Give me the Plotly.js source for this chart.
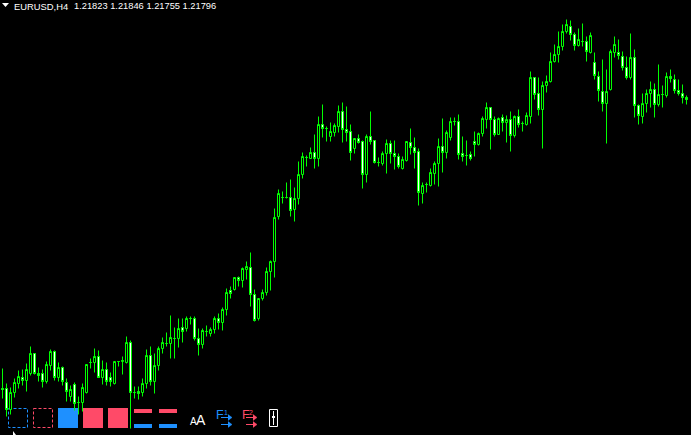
<!DOCTYPE html>
<html><head><meta charset="utf-8">
<script src="https://cdn.plot.ly/plotly-3.0.1.min.js"></script>
<style>html,body{margin:0;padding:0;background:#000;overflow:hidden}#c{width:691px;height:435px}</style>
</head><body><div id="c"></div>
<script>
// EURUSD H4, prices expressed in points (price x 10000)
const openP = [11890,11890,11869,11886,11895,11901,11898,11905,11925,11905,11905,11897,11913,11927,11901,11911,11896,11882,11894,11876,11876,11886,11916,11916,11922,11901,11909,11901,11895,11917,11917,11916,11936,11886,11887,11886,11895,11923,11897,11913,11930,11935,11935,11940,11940,11951,11950,11960,11960,11940,11934,11947,11945,11949,11960,11956,11969,11988,11989,12001,11998,12009,12011,11984,11960,11980,11986,12007,12017,12062,12081,12081,12081,12069,12080,12104,12121,12120,12126,12120,12154,12150,12142,12146,12152,12167,12149,12147,12130,12140,12137,12104,12142,12138,12116,12115,12125,12135,12125,12122,12110,12118,12136,12131,12127,12085,12094,12093,12105,12115,12132,12126,12141,12157,12157,12125,12123,12124,12137,12134,12145,12159,12171,12159,12144,12161,12156,12159,12143,12162,12155,12154,12162,12201,12185,12169,12193,12197,12217,12224,12232,12247,12252,12244,12233,12237,12237,12226,12216,12202,12187,12175,12189,12226,12226,12222,12211,12201,12221,12173,12162,12175,12185,12189,12174,12184,12183,12202,12199,12188,12185,12181];
const highP = [11910,11895,11891,11900,11908,11909,11915,11932,11925,11911,11909,11917,11929,11928,11916,11912,11900,11893,11896,11882,11895,11914,11920,11930,11928,11918,11916,11906,11917,11917,11922,11942,11938,11892,11892,11900,11929,11932,11925,11932,11941,11946,11963,11951,11960,11960,11962,11962,11962,11950,11950,11953,11951,11962,11965,11971,11990,11992,12001,12002,12011,12017,12026,11989,11980,11989,12011,12018,12070,12089,12087,12096,12099,12091,12117,12126,12123,12131,12144,12162,12174,12152,12156,12155,12173,12176,12172,12154,12140,12144,12138,12144,12167,12138,12121,12127,12139,12138,12138,12125,12122,12137,12150,12141,12130,12096,12096,12110,12117,12140,12160,12148,12161,12161,12164,12142,12138,12127,12147,12146,12162,12176,12171,12162,12161,12164,12163,12167,12163,12169,12157,12166,12207,12201,12201,12197,12203,12226,12234,12247,12254,12259,12258,12246,12250,12255,12242,12246,12226,12207,12219,12209,12229,12242,12239,12227,12222,12245,12229,12174,12185,12189,12197,12195,12214,12193,12206,12209,12204,12199,12194,12183];
const lowP = [11880,11862,11864,11881,11890,11893,11887,11903,11904,11897,11891,11895,11908,11898,11897,11893,11877,11877,11868,11864,11867,11885,11910,11906,11901,11894,11893,11892,11894,11912,11904,11915,11850,11880,11879,11882,11890,11893,11885,11908,11925,11932,11920,11920,11931,11936,11947,11954,11938,11923,11930,11942,11942,11945,11949,11948,11963,11980,11988,11992,11991,11999,11972,11957,11958,11978,11983,11988,12001,12059,12075,12080,12062,12057,12074,12100,12112,12120,12110,12112,12141,12137,12137,12142,12146,12136,12137,12118,12125,12135,12090,12096,12134,12115,12112,12113,12105,12115,12109,12110,12109,12117,12124,12110,12073,12075,12086,12092,12094,12092,12106,12120,12138,12153,12119,12117,12113,12118,12122,12133,12142,12150,12129,12142,12144,12147,12136,12127,12141,12151,12147,12153,12155,12179,12163,12130,12186,12196,12216,12216,12228,12245,12238,12228,12232,12232,12217,12225,12199,12177,12167,12135,12188,12221,12219,12208,12199,12199,12161,12154,12155,12166,12171,12161,12172,12171,12181,12196,12185,12183,12175,12174];
const closeP = [11889,11869,11886,11896,11902,11898,11909,11925,11905,11903,11897,11914,11927,11901,11911,11897,11887,11889,11875,11876,11891,11914,11916,11922,11901,11909,11897,11897,11917,11917,11918,11936,11886,11886,11885,11895,11923,11897,11913,11930,11936,11935,11941,11940,11950,11947,11960,11960,11940,11934,11948,11947,11949,11960,11956,11969,11986,11985,12001,11998,12010,12012,11984,11958,11980,11986,12007,12017,12061,12085,12081,12081,12068,12080,12104,12122,12121,12126,12120,12154,12150,12150,12147,12153,12167,12149,12146,12126,12140,12136,12104,12142,12137,12116,12116,12125,12135,12125,12122,12112,12119,12137,12131,12126,12086,12093,12094,12106,12115,12132,12126,12146,12157,12157,12124,12122,12123,12120,12134,12145,12160,12171,12159,12144,12160,12156,12159,12143,12162,12154,12155,12163,12201,12184,12169,12193,12197,12217,12224,12232,12247,12254,12244,12233,12239,12237,12227,12243,12203,12188,12175,12187,12227,12234,12223,12211,12201,12221,12173,12163,12175,12185,12189,12174,12184,12184,12202,12200,12188,12185,12181,12179];
const headerSymbol = "EURUSD,H4";
const headerPrices = "1.21823 1.21846 1.21755 1.21796";
const blue = "#1E90FF", red = "#FF4A68", candle = "#00FF00";

const W = 691, H = 435;
const idx = openP.map((_, i) => i);
const px = x => x / W, py = y => 1 - y / H;
const rect = (x0, y0, x1, y1, o) => Object.assign({type:"rect", xref:"paper", yref:"paper", layer:"below",
  x0:px(x0), x1:px(x1), y0:py(y0), y1:py(y1), line:{width:0}}, o);
const path = (pts, o) => Object.assign({type:"path", xref:"paper", yref:"paper", layer:"below",
  path:pts.map((p,i)=>(i?"L":"M")+px(p[0])+","+py(p[1])).join("")}, o);
const arrow = (x0, x1, y, c) => [
  path([[x0,y+0.5],[x1,y+0.5]], {line:{color:c,width:1}}),
  path([[x1-3,y-2.5],[x1+1,y+0.5],[x1-3,y+3.5]], {fillcolor:c, line:{color:c,width:0.5}})
];
const shapes = [
  path([[2,3],[9,3],[5.5,7]], {fillcolor:"#fff", line:{width:0}}),
  rect(8.5,408.5,27.5,427.5,{line:{color:blue,width:1,dash:"3px,2px"}}),
  rect(33.5,408.5,52.5,427.5,{line:{color:red,width:1,dash:"3px,2px"}}),
  rect(58,408,78,428,{fillcolor:blue}),
  rect(83,408,103,428,{fillcolor:red}),
  rect(108,408,128,428,{fillcolor:red}),
  rect(134,409,152,413,{fillcolor:red}),
  rect(134,424,152,428,{fillcolor:blue}),
  rect(159,409,177,413,{fillcolor:red}),
  rect(159,424,177,428,{fillcolor:blue}),
  ...arrow(221,231,417,blue), ...arrow(221,231,424,blue),
  ...arrow(246,256,417,red), ...arrow(246,256,424,red),
  rect(269.5,409.5,277.5,426.5,{line:{color:"#fff",width:1}}),
  path([[273.5,411],[273.5,425]],{line:{color:"#fff",width:1}}),
  rect(272,416,275,418,{fillcolor:"#fff"}),
  path([[13,431],[13,435],[16,435]],{fillcolor:"#fff",line:{width:0}})
];
const label = (text, x, y, size, color, anchor, bold) => ({text: bold ? "<b>"+text+"</b>" : text, xref:"paper", yref:"paper", x:px(x), y:py(y),
  xanchor:anchor||"left", yanchor:"middle", showarrow:false, borderpad:0, font:{family:"Liberation Sans, sans-serif", size, color}});
const annotations = [
  label(headerSymbol, 13, 6, 9.4, "#fff"),
  label(headerPrices, 73, 6, 9.3, "#fff"),
  label("A", 189, 421, 10, "#fff"),
  label("A", 195, 419.5, 14, "#fff"),
  label("F", 215, 415, 12.5, blue),
  label("1", 222.5, 412, 7, blue),
  label("F", 241, 415, 12.5, red),
  label("2", 248.5, 412, 7, red)
];

Plotly.newPlot("c", [{
  type:"candlestick", x:idx, open:openP, high:highP, low:lowP, close:closeP,
  increasing:{line:{color:candle,width:1}, fillcolor:"#000"},
  decreasing:{line:{color:candle,width:1}, fillcolor:"#fff"},
  whiskerwidth:0, hoverinfo:"skip"
}], {
  width:W, height:H, margin:{l:0,r:0,t:0,b:0,pad:0},
  paper_bgcolor:"#000", plot_bgcolor:"#000", showlegend:false, boxgap:0.5, boxgroupgap:0,
  xaxis:{range:[-0.625,172.125], visible:false, fixedrange:true, rangeslider:{visible:false}},
  yaxis:{range:[11843.5,12278.5], visible:false, fixedrange:true},
  shapes, annotations
}, {displayModeBar:false, staticPlot:true});
</script></body></html>
